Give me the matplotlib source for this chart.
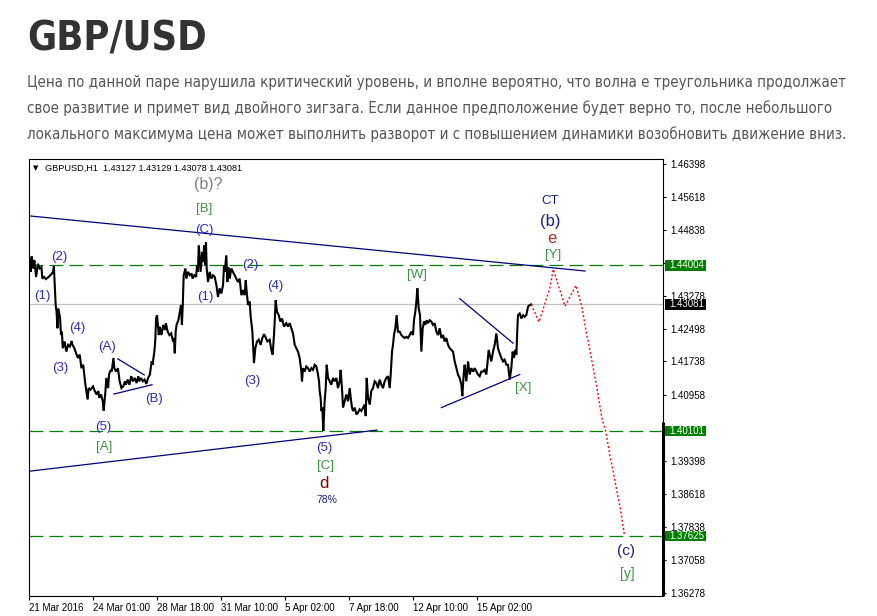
import matplotlib
matplotlib.use("Agg")
import matplotlib.pyplot as plt
from matplotlib import font_manager
from matplotlib.patches import Rectangle
from matplotlib.transforms import blended_transform_factory

# ---- данные графика (бары H1, цена) ----
price_bar = [
    1, 2, 3, 5, 6, 8, 10, 12, 14, 15, 17, 19, 22, 25, 27, 28, 29, 30, 31, 32,
    33, 35, 36, 37, 38, 40, 42, 44, 46, 48, 49, 51, 53, 55, 57, 59, 61, 63, 64, 66,
    67, 69, 72, 74, 76, 78, 79, 81, 83, 84, 86, 87, 89, 90, 92, 93, 95, 96, 98, 100,
    102, 104, 106, 108, 109, 111, 113, 115, 117, 119, 121, 123, 124, 126, 128, 130, 132, 134, 136, 138,
    139, 141, 142, 143, 144, 146, 147, 149, 151, 153, 154, 156, 158, 160, 162, 163, 164, 165, 166, 168,
    169, 171, 172, 173, 174, 176, 177, 179, 181, 183, 184, 186, 188, 189, 190, 191, 192, 193, 195, 196,
    197, 197.6, 198.4, 199.1, 199.9, 201.4, 203.3, 205.1, 207, 208.9, 210.8, 212.6, 214.5, 216.4, 218.3, 219.4,
    220.1, 222, 223.1, 224.6, 225.8, 227.6, 229.5, 231.4, 233.3, 235.1, 237, 238.9, 240.8, 242.6, 243.8, 244.9,
    246.4, 248.3, 249.4, 251.3, 253.1, 254.6, 256.5, 258.4, 260.6, 262.5, 264.4, 265.9, 268.1, 270.8, 272.6, 274.1,
    275.6, 276.4, 277.5, 279, 280.9, 282.8, 284.6, 286.9, 289.5, 291.4, 293.3, 295.1, 297, 298.9, 300.8, 302.6,
    304.5, 306.4, 307.1, 308.3, 310.1, 312, 313.9, 315.8, 317.6, 319.5, 321.4, 323.3, 325.1, 326.3, 327, 328.1,
    328.9, 330, 331.1, 332.6, 333.8, 334.9, 336.4, 338.3, 340.1, 342, 343.9, 345.8, 347.6, 349.5, 350.6, 352.1,
    353.3, 355.1, 357, 358.9, 360.8, 361.9, 363.4, 364.5, 366.4, 368.3, 370.1, 372, 373.9, 375.8, 377.6, 378.8,
    379.9, 381.4, 383.3, 385.1, 387, 388.9, 390.8, 392.6, 394.5, 396.4, 398.3, 400.1, 402, 403.9, 405.8, 406.9,
    408.4, 409.5, 410.6, 412.1, 413.6, 415.1, 417, 418.9, 420.8, 422.6, 424.5, 426.4, 428.3, 430.1, 432, 433.1,
    434.6, 435.8, 436.9, 438.4, 439.9, 441.4, 442.9, 444.4, 445.9, 447.4, 448.9, 450.8, 452.6, 454.5, 456.4, 458.3,
    460.1, 462, 463.9, 465.8, 467.6, 469.5, 471.4, 473.3, 475.1, 477, 478.9, 480.8, 482.6, 484.5, 486.4, 487.5,
    489, 490.1, 492, 493.9, 495.8, 497.6, 499.5, 501.4, 503.3, 505.1, 507, 508.9, 510.8, 512.6, 514.5, 515.6,
    517.1, 518.3, 520.1, 522, 523.9, 525.8, 527.6, 529.5, 531.4, 533.3, 535.1, 537, 538.9, 540.8, 542.6, 544.1,
    545.6, 547.1, 548.3, 549.4, 550.1, 552, 553.9, 555.8, 557.6, 559.5, 561.4, 563.3, 565,
]
price_val = [
    1.4416, 1.4385, 1.4422, 1.4393, 1.4412, 1.4373, 1.4404, 1.4393, 1.4396, 1.4369, 1.4373, 1.4368, 1.4373, 1.4379, 1.4385, 1.4398, 1.4354, 1.4307, 1.4291, 1.4252,
    1.4299, 1.4275, 1.4236, 1.4244, 1.4205, 1.4221, 1.4197, 1.4213, 1.4209, 1.4222, 1.4213, 1.4205, 1.4193, 1.4182, 1.4190, 1.4158, 1.4166, 1.4127, 1.4111, 1.4084,
    1.4111, 1.4107, 1.4115, 1.4104, 1.4096, 1.4104, 1.4088, 1.4096, 1.4080, 1.4058, 1.4104, 1.4135, 1.4111, 1.4143, 1.4154, 1.4150, 1.4182, 1.4158, 1.4150, 1.4158,
    1.4127, 1.4111, 1.4115, 1.4127, 1.4119, 1.4131, 1.4119, 1.4139, 1.4127, 1.4135, 1.4123, 1.4139, 1.4127, 1.4135, 1.4127, 1.4131, 1.4121, 1.4135, 1.4143, 1.4174,
    1.4166, 1.4197, 1.4221, 1.4275, 1.4283, 1.4236, 1.4256, 1.4236, 1.4260, 1.4248, 1.4264, 1.4244, 1.4236, 1.4240, 1.4221, 1.4229, 1.4193, 1.4244, 1.4260, 1.4271,
    1.4283, 1.4307, 1.4260, 1.4307, 1.4377, 1.4393, 1.4369, 1.4385, 1.4377, 1.4381, 1.4369, 1.4377, 1.4373, 1.4400, 1.4385, 1.4447, 1.4424, 1.4385, 1.4432, 1.4408,
    1.4447, 1.4424, 1.4400, 1.4455, 1.4393, 1.4361, 1.4385, 1.4369, 1.4377, 1.4373, 1.4354, 1.4326, 1.4346, 1.4334, 1.4354, 1.4400,
    1.4385, 1.4424, 1.4361, 1.4396, 1.4369, 1.4393, 1.4385, 1.4377, 1.4369, 1.4361, 1.4369, 1.4330, 1.4342, 1.4330, 1.4365, 1.4338,
    1.4307, 1.4315, 1.4279, 1.4244, 1.4170, 1.4205, 1.4221, 1.4225, 1.4213, 1.4229, 1.4238, 1.4232, 1.4221, 1.4225, 1.4201, 1.4190,
    1.4236, 1.4268, 1.4318, 1.4291, 1.4283, 1.4268, 1.4275, 1.4256, 1.4264, 1.4256, 1.4264, 1.4252, 1.4240, 1.4213, 1.4205, 1.4197,
    1.4182, 1.4150, 1.4127, 1.4158, 1.4150, 1.4162, 1.4158, 1.4150, 1.4158, 1.4154, 1.4166, 1.4162, 1.4143, 1.4127, 1.4104, 1.4088,
    1.4057, 1.4065, 1.4010, 1.4080, 1.4111, 1.4166, 1.4135, 1.4127, 1.4119, 1.4135, 1.4127, 1.4135, 1.4111, 1.4127, 1.4154, 1.4111,
    1.4065, 1.4080, 1.4096, 1.4080, 1.4111, 1.4088, 1.4065, 1.4057, 1.4065, 1.4049, 1.4053, 1.4061, 1.4057, 1.4065, 1.4072, 1.4045,
    1.4135, 1.4088, 1.4072, 1.4104, 1.4111, 1.4127, 1.4123, 1.4111, 1.4131, 1.4119, 1.4111, 1.4127, 1.4135, 1.4139, 1.4111, 1.4143,
    1.4197, 1.4213, 1.4236, 1.4252, 1.4283, 1.4244, 1.4244, 1.4236, 1.4232, 1.4229, 1.4232, 1.4229, 1.4236, 1.4244, 1.4236, 1.4271,
    1.4291, 1.4315, 1.4346, 1.4299, 1.4283, 1.4197, 1.4252, 1.4268, 1.4260, 1.4271, 1.4264, 1.4271, 1.4268, 1.4260, 1.4264, 1.4244,
    1.4236, 1.4252, 1.4229, 1.4236, 1.4221, 1.4229, 1.4213, 1.4205, 1.4201, 1.4197, 1.4174, 1.4158, 1.4143, 1.4135, 1.4119, 1.4092,
    1.4143, 1.4166, 1.4127, 1.4174, 1.4143, 1.4158, 1.4150, 1.4158, 1.4150, 1.4143, 1.4139, 1.4150, 1.4150, 1.4154, 1.4143, 1.4166,
    1.4201, 1.4190, 1.4174, 1.4197, 1.4213, 1.4240, 1.4205, 1.4193, 1.4182, 1.4174, 1.4178, 1.4166, 1.4166, 1.4131, 1.4158, 1.4197,
    1.4182, 1.4201, 1.4190, 1.4252, 1.4283, 1.4287, 1.4275, 1.4283, 1.4279, 1.4283, 1.4303, 1.4307, 1.43081,
]

# прогноз (красный пунктир)
forecast_bar = [565, 573.8, 580.5, 585.8, 589.8, 603, 615.4, 622.1, 627.4, 629.2,
                636.8, 638.7, 644.3, 648.8, 653.6, 656.7, 663, 665.4, 670]
forecast_val = [1.43081, 1.4267, 1.4311, 1.4346, 1.4391, 1.4304, 1.4353, 1.4302, 1.4236, 1.4221,
                1.4135, 1.4115, 1.4041, 1.4010, 1.3951, 1.3920, 1.3850, 1.3826, 1.37625]

# линии треугольников: (бары), (цены)
trend_lines = [
    ([0, 625.5], [1.4517, 1.4387]),
    ([0, 391.5], [1.3915, 1.4012]),
    ([99.8, 129.7], [1.4180, 1.4142]),
    ([95.6, 138.4], [1.4097, 1.4119]),
    ([484.5, 544.5], [1.4322, 1.4217]),
    ([463.9, 552], [1.4065, 1.4143]),
]

level_lines = [1.44004, 1.40101, 1.37625]
last_price = 1.43081
ohlc_header = "GBPUSD,H1  1.43127 1.43129 1.43078 1.43081"

price_ticks = [1.46398, 1.45618, 1.44838, 1.44058, 1.43278, 1.42498, 1.41738,
               1.40958, 1.40178, 1.39398, 1.38618, 1.37838, 1.37058, 1.36278]
hidden_ticks = [1.44058, 1.40178]  # под плашками уровней
date_ticks = [0, 72, 144, 216, 288, 360, 432, 504]
date_labels = ["21 Mar 2016", "24 Mar 01:00", "28 Mar 18:00", "31 Mar 10:00",
               "5 Apr 02:00", "7 Apr 18:00", "12 Apr 10:00", "15 Apr 02:00"]

BLUE = "#2a2ac8"
GREEN = "#3a933f"
NAVY = "#1c1c8c"
# разметка волн: текст, бар, цена, цвет, размер
wave_labels = [
    ("(1)", 15.4, 1.4329, BLUE, 9.5), ("(2)", 34.1, 1.4421, BLUE, 9.5),
    ("(3)", 34.9, 1.4158, BLUE, 9.5), ("(4)", 54.3, 1.4252, BLUE, 9.5),
    ("(5)", 83.6, 1.4020, BLUE, 9.5), ("[A]", 84.7, 1.3973, GREEN, 9.5),
    ("(A)", 88.1, 1.4209, BLUE, 9.5), ("(B)", 141, 1.4085, BLUE, 9.5),
    ("(b)?", 201.7, 1.4591, "#808080", 11.5), ("[B]", 197.2, 1.4532, GREEN, 9.5),
    ("(C)", 197.2, 1.4484, BLUE, 9.5), ("(1)", 198.8, 1.4326, BLUE, 9.5),
    ("(2)", 248.6, 1.4401, BLUE, 9.5), ("(3)", 251.2, 1.4128, BLUE, 9.5),
    ("(4)", 277.5, 1.4352, BLUE, 9.5), ("(5)", 332.2, 1.3970, BLUE, 9.5),
    ("[C]", 333, 1.3928, GREEN, 9.5), ("d", 331.9, 1.3887, "#8b0000", 12),
    ("78%", 335.3, 1.3847, NAVY, 7.5), ("[W]", 436.2, 1.4378, GREEN, 9.5),
    ("[X]", 556.1, 1.4112, GREEN, 9.5), ("CT", 586.1, 1.4552, NAVY, 9.5),
    ("(b)", 586.1, 1.4503, NAVY, 12), ("e", 588.7, 1.4464, "#b0302a", 12),
    ("[Y]", 589.8, 1.4425, GREEN, 9.5), ("(c)", 671.6, 1.3727, NAVY, 11),
    ("[y]", 672.8, 1.3673, GREEN, 10),
]

title = "GBP/USD"
body_lines = [
    "Цена по данной паре нарушила критический уровень, и вполне вероятно, что волна е треугольника продолжает",
    "свое развитие и примет вид двойного зигзага. Если данное предположение будет верно то, после небольшого",
    "локального максимума цена может выполнить разворот и с повышением динамики возобновить движение вниз.",
]

# ---- шрифты ----
names = {f.name for f in font_manager.fontManager.ttflist}
if "Liberation Sans Narrow" in names:
    head_font, head_stretch = "Liberation Sans Narrow", "normal"
else:
    head_font, head_stretch = "DejaVu Sans", "condensed"
chart_font = "Liberation Sans" if "Liberation Sans" in names else "DejaVu Sans"

W, H = 877, 616
fig = plt.figure(figsize=(W / 100, H / 100), dpi=100)
fig.patch.set_facecolor("white")

fig.text(27 / W, 1 - 51 / H, title, fontsize=28.5, fontweight="bold", color="#333333",
         family=head_font, stretch=head_stretch, va="baseline", ha="left")
for i, line in enumerate(body_lines):
    fig.text(27 / W, 1 - (87 + 26 * i) / H, line, fontsize=10.8, color="#555555",
             family=head_font, stretch=head_stretch, va="baseline", ha="left")

ax = fig.add_axes([29 / W, 1 - 596 / H, (663 - 29) / W, (596 - 159) / H])
ax.set_xlim(0, 713.25)
ax.set_ylim(1.3621, 1.4651)
for sp in ax.spines.values():
    sp.set_linewidth(0.8)
    sp.set_color("black")

# уровни
for lvl in level_lines:
    ax.axhline(lvl, color="#008000", lw=0.9, ls=(0, (11, 5)), zorder=2)
ax.axhline(last_price, color="#c0c0c0", lw=0.9, zorder=1)

# цена
ax.plot(price_bar, price_val, color="black", lw=1.5, zorder=3, solid_joinstyle="miter")

# линии треугольников
for xs, ys in trend_lines:
    ax.plot(xs, ys, color="#000080", lw=0.9, zorder=3)

# прогноз
ax.plot(forecast_bar, forecast_val, color="#ff0000", lw=1.0, ls=(0, (1.4, 1.6)), zorder=3)

for txt, bx, py, col, fs in wave_labels:
    ax.text(bx, py, txt, color=col, fontsize=fs, family=chart_font,
            ha="center", va="center", zorder=4)

ax.text(0.011, 0.979, "\u25bc", transform=ax.transAxes, fontsize=5, va="center", ha="center",
        family="DejaVu Sans")
ax.text(0.0255, 0.979, ohlc_header, transform=ax.transAxes, fontsize=6.6, va="center",
        ha="left", family=chart_font)

# оси
ax.yaxis.tick_right()
ax.set_yticks(price_ticks)
ax.set_yticklabels(["" if t in hidden_ticks else f"{t:.5f}" for t in price_ticks])
ax.tick_params(axis="y", direction="out", length=2, width=0.8, pad=3, labelsize=7)
ax.set_xticks(date_ticks)
ax.set_xticklabels(date_labels)
ax.tick_params(axis="x", direction="out", length=3, width=0.8, pad=2, labelsize=7)
for lab in ax.get_xticklabels() + ax.get_yticklabels():
    lab.set_family(chart_font)
for lab in ax.get_xticklabels():
    lab.set_ha("left")

blend = blended_transform_factory(ax.transAxes, ax.transData)
box_h = 0.00252
for lvl, col in [(1.44004, "#008000"), (1.40101, "#008000"), (1.37625, "#008000"), (last_price, "black")]:
    ax.add_patch(Rectangle((1.0032, lvl - box_h / 2), 0.0646, box_h, transform=blend,
                           facecolor=col, edgecolor="none", clip_on=False, zorder=5))
    ax.text(1.0095, lvl, f"{lvl:.5f}", transform=blend, color="white", fontsize=7,
            family=chart_font, va="center", ha="left", zorder=6, clip_on=False)

ax.plot([1, 1], [1.4031, 1.3621], transform=blend, color="black", lw=2.2,
        clip_on=False, zorder=5, solid_capstyle="butt")

fig.savefig("out.png", dpi=100, facecolor="white")
